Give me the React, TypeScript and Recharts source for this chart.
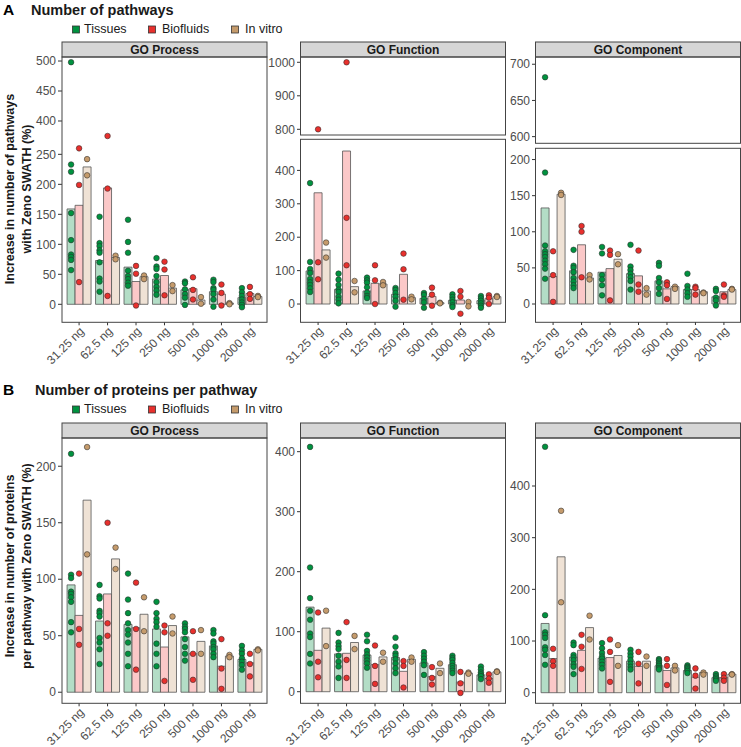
import React from 'react';
import { ComposedChart, Bar, Scatter, XAxis, YAxis } from 'recharts';

const CATEGORIES = ['31.25 ng', '62.5 ng', '125 ng', '250 ng', '500 ng', '1000 ng', '2000 ng'];
const SERIES = ['Tissues', 'Biofluids', 'In vitro'];

// ---------- A: Number of pathways ----------
// GO Process
const A_PROC_BAR_T = [159, 73, 62, 42, 24, 21, 11];
const A_PROC_BAR_B = [165, 194, 38, 48, 26, 17, 18];
const A_PROC_BAR_V = [229, 78, 46, 27, 7, 2, 13];
const A_PROC_PTS_T = [
  [498, 233, 221, 152, 107, 83, 79, 74, 57],
  [146, 102, 97, 90, 86, 70, 43, 38, 21],
  [141, 104, 86, 56, 47, 42, 36, 31],
  [77, 63, 59, 47, 37, 29, 23, 16],
  [38, 35, 25, 17, 11, -1],
  [41, 37, 27, 24, 17, 8, -4],
  [27, 20, 14, 8, 3, -1, -5],
];
const A_PROC_PTS_B = [[260, 199, 37], [375, 193, 14], [64, 51, -2], [71, 58, 15], [45, 24, 8], [33, 19, -2], [29, 17, 9]];
const A_PROC_PTS_V = [[242, 215], [81, 75], [48, 42], [32, 22], [12, 1], [2, 0], [14, 12]];

// GO Function
const A_FUNC_BAR_T = [99, 44, 39, 29, 17, 11, 10];
const A_FUNC_BAR_B = [333, 458, 62, 89, 23, 12, 16];
const A_FUNC_BAR_V = [162, 52, 60, 19, 4, 0, 22];
const A_FUNC_PTS_T = [
  [362, 126, 105, 93, 75, 65, 57, 47, 36],
  [91, 73, 57, 43, 36, 22, 13, 2],
  [79, 71, 64, 50, 34, 24, 18],
  [48, 42, 33, 22, 10, -8],
  [33, 27, 15, 5, -11],
  [29, 21, 13, 5, -4, -9],
  [24, 17, 10, 2, -5, -11],
];
const A_FUNC_PTS_B = [[800, 125, 74], [1000, 258, 116], [116, 71, 0], [151, 104, 13], [49, 28, -5], [39, 22, -29], [26, 19, 0]];
const A_FUNC_PTS_V = [[184, 139], [69, 35], [66, 56], [22, 14], [4, 2], [6, -7], [24, 21]];

// GO Component
const A_COMP_BAR_T = [133, 46, 44, 42, 32, 20, 10];
const A_COMP_BAR_B = [38, 82, 49, 39, 21, 20, 17];
const A_COMP_BAR_V = [152, 36, 62, 18, 24, 17, 20];
const A_COMP_PTS_T = [
  [682, 182, 81, 73, 69, 65, 60, 55, 49, 35],
  [75, 53, 50, 44, 36, 31, 26, 22],
  [79, 70, 40, 34, 26, 12],
  [82, 52, 47, 42, 37, 32, 20],
  [57, 53, 36, 30, 22, 14],
  [42, 25, 20, 15, 10],
  [21, 18, 9, 5, -2],
];
const A_COMP_PTS_B = [[73, 40, 3], [108, 100, 37], [74, 68, 5], [74, 27, 17], [30, 26, 7], [24, 22, 13], [27, 12, 10]];
const A_COMP_PTS_V = [[154, 151], [40, 34], [69, 55], [22, 13], [24, 21], [16, 15], [21, 20]];

// ---------- B: Number of proteins per pathway ----------
const B_PROC_BAR_T = [95, 63, 60, 56, 49, 41, 29];
const B_PROC_BAR_B = [68, 87, 57, 40, 34, 23, 26];
const B_PROC_BAR_V = [170, 118, 69, 59, 45, 32, 38];
const B_PROC_PTS_T = [
  [211, 104, 101, 89, 87, 84, 80, 62, 53],
  [95, 85, 83, 72, 70, 67, 48, 44, 38, 25],
  [105, 82, 70, 61, 55, 51, 44, 34, 23],
  [80, 70, 65, 62, 58, 43, 34, 23],
  [61, 58, 56, 53, 47, 40, 34, 28],
  [55, 52, 45, 43, 40, 38, 34, 31],
  [41, 37, 34, 30, 27, 24, 20],
];
const B_PROC_PTS_B = [[105, 56, 42], [150, 61, 50], [97, 56, 20], [59, 53, 10], [54, 34, 11], [47, 21, 3], [34, 25, 14]];
const B_PROC_PTS_V = [[217, 122], [128, 109], [84, 54], [67, 52], [55, 34], [33, 31], [38, 37]];

const B_FUNC_BAR_T = [141, 63, 61, 57, 48, 45, 28];
const B_FUNC_BAR_B = [69, 64, 45, 34, 25, 16, 22];
const B_FUNC_BAR_V = [106, 82, 58, 54, 39, 31, 33];
const B_FUNC_PTS_T = [
  [408, 207, 156, 135, 120, 97, 91, 63, 47],
  [98, 82, 76, 71, 60, 50, 42, 23],
  [95, 84, 68, 62, 57, 52, 47, 40],
  [90, 75, 64, 60, 54, 47, 39, 31],
  [66, 60, 55, 50, 44, 28],
  [60, 56, 53, 48, 43, 39, 35, 31],
  [42, 37, 32, 29, 26, 21],
];
const B_FUNC_PTS_B = [[132, 50, 24], [116, 53, 23], [77, 43, 13], [51, 43, 7], [41, 23, 12], [33, 14, -2], [29, 22, 15]];
const B_FUNC_PTS_V = [[135, 76], [93, 71], [65, 50], [57, 50], [47, 31], [32, 30], [34, 33]];

const B_COMP_BAR_T = [134, 69, 67, 61, 52, 43, 29];
const B_COMP_BAR_B = [66, 82, 68, 51, 43, 30, 29];
const B_COMP_BAR_V = [263, 126, 72, 61, 48, 39, 36];
const B_COMP_PTS_T = [
  [476, 150, 117, 112, 106, 88, 83, 73, 54],
  [97, 92, 73, 68, 63, 55, 50, 36],
  [96, 86, 77, 70, 66, 60, 54, 47],
  [83, 76, 70, 63, 56, 50, 45],
  [65, 62, 58, 55, 52, 48, 45],
  [53, 50, 48, 45, 42, 38],
  [36, 32, 29, 26, 23],
];
const B_COMP_PTS_B = [[85, 61, 52], [112, 89, 46], [103, 79, 21], [79, 56, 18], [65, 52, 15], [47, 33, 8], [36, 29, 23]];
const B_COMP_PTS_V = [[352, 175], [149, 103], [92, 52], [70, 52], [52, 43], [39, 35], [36, 35]];

// ---------- styling ----------
const FONT = '"Liberation Sans", Arial, Helvetica, sans-serif';
const DOT = ['#00923f', '#e8302d', '#c59b6c'];
const FILL = ['#b3ddc6', '#fbc8c8', '#efe2d5'];
const KEYS = ['t', 'b', 'v'];
const YW = 40;
const XH = 62;
const PAD = 8;
const PW = 205;
const DODGE = 0.281;

const XTick = (props: any) => {
  const { x, y, payload } = props;
  return (
    <g transform={`translate(${x},${y})`}>
      <text x={0} y={0} dy={8} textAnchor="end" transform="rotate(-45)" fontSize={12} fill="#4d4d4d" fontFamily={FONT}>
        {payload.value}
      </text>
    </g>
  );
};

const makeDot = (color: string) => (p: any) => (
  <circle cx={p.cx} cy={p.cy} r={2.8} fill={color} stroke="#2a2a2a" strokeWidth={0.55} />
);

type SubProps = {
  left: number; top: number; height: number; domain: [number, number]; ticks: number[];
  bars: number[][]; pts: number[][][]; showBars: boolean; showX: boolean;
};

function Sub({ left, top, height, domain, ticks, bars, pts, showBars, showX }: SubProps) {
  const rows = CATEGORIES.map((c, i) => ({ cat: c, t: bars[0][i], b: bars[1][i], v: bars[2][i] }));
  const scatterData = pts.map((series, s) =>
    series.flatMap((arr, i) =>
      arr.filter((y) => y >= domain[0] && y <= domain[1]).map((y) => ({ x: i + (s - 1) * DODGE, y }))
    )
  );
  const bottomPad = showX ? 0 : PAD;
  return (
    <div style={{ position: 'absolute', left: left - YW, top: top - PAD }}>
      <ComposedChart
        width={PW + YW}
        height={height + PAD + bottomPad + (showX ? XH : 0)}
        data={rows}
        margin={{ top: PAD, right: 0, bottom: bottomPad, left: 0 }}
        barGap={0}
        barCategoryGap="7.8%"
      >
        <XAxis
          xAxisId="cat"
          dataKey="cat"
          type="category"
          padding={{ left: PW / 72, right: PW / 72 }}
          hide={!showX}
          height={XH}
          interval={0}
          tick={<XTick />}
          tickSize={3}
          tickMargin={1}
          axisLine={false}
          tickLine={{ stroke: '#333' }}
        />
        <XAxis xAxisId="num" dataKey="x" type="number" domain={[-0.6, 6.6]} allowDataOverflow hide />
        <YAxis
          yAxisId="y"
          type="number"
          domain={domain}
          ticks={ticks}
          allowDataOverflow
          width={YW}
          interval={0}
          tickSize={4}
          tickMargin={2}
          axisLine={false}
          tickLine={{ stroke: '#333' }}
          tick={{ fontSize: 12, fill: '#4d4d4d', fontFamily: FONT }}
        />
        {showBars &&
          KEYS.map((k, s) => (
            <Bar
              key={k}
              xAxisId="cat"
              yAxisId="y"
              dataKey={k}
              fill={FILL[s]}
              stroke="#555"
              strokeWidth={0.8}
              isAnimationActive={false}
            />
          ))}
        {scatterData.map((d, s) => (
          <Scatter
            key={'s' + s}
            xAxisId="num"
            yAxisId="y"
            data={d}
            dataKey="y"
            shape={makeDot(DOT[s])}
            isAnimationActive={false}
          />
        ))}
      </ComposedChart>
    </div>
  );
}

const LEFT_PROC = 62;
const LEFT_FUNC = 300.5;
const LEFT_COMP = 535.5;

const A_PROC = { bars: [A_PROC_BAR_T, A_PROC_BAR_B, A_PROC_BAR_V], pts: [A_PROC_PTS_T, A_PROC_PTS_B, A_PROC_PTS_V] };
const A_FUNC = { bars: [A_FUNC_BAR_T, A_FUNC_BAR_B, A_FUNC_BAR_V], pts: [A_FUNC_PTS_T, A_FUNC_PTS_B, A_FUNC_PTS_V] };
const A_COMP = { bars: [A_COMP_BAR_T, A_COMP_BAR_B, A_COMP_BAR_V], pts: [A_COMP_PTS_T, A_COMP_PTS_B, A_COMP_PTS_V] };
const B_PROC = { bars: [B_PROC_BAR_T, B_PROC_BAR_B, B_PROC_BAR_V], pts: [B_PROC_PTS_T, B_PROC_PTS_B, B_PROC_PTS_V] };
const B_FUNC = { bars: [B_FUNC_BAR_T, B_FUNC_BAR_B, B_FUNC_BAR_V], pts: [B_FUNC_PTS_T, B_FUNC_PTS_B, B_FUNC_PTS_V] };
const B_COMP = { bars: [B_COMP_BAR_T, B_COMP_BAR_B, B_COMP_BAR_V], pts: [B_COMP_PTS_T, B_COMP_PTS_B, B_COMP_PTS_V] };

function Legend({ y }: { y: number }) {
  const sq = [72, 148, 231];
  const tx = [84, 162, 245];
  return (
    <g>
      {SERIES.map((s, i) => (
        <g key={s}>
          <rect x={sq[i] + 0.5} y={y - 7} width={7} height={7} fill={DOT[i]} stroke="#333" strokeWidth={0.8} />
          <text x={tx[i]} y={y} fontSize={12.5} fill="#1a1a1a">{s}</text>
        </g>
      ))}
    </g>
  );
}

function Strip({ left, top, label }: { left: number; top: number; label: string }) {
  return (
    <g>
      <rect x={left} y={top} width={PW} height={15} fill="#d6d6d6" stroke="#444" strokeWidth={1} />
      <text x={left + PW / 2} y={top + 12} textAnchor="middle" fontSize={12} fontWeight="bold" fill="#1a1a1a">{label}</text>
    </g>
  );
}

const Box = ({ left, top, bottom }: { left: number; top: number; bottom: number }) => (
  <rect x={left} y={top} width={PW} height={bottom - top} fill="none" stroke="#444" strokeWidth={1} />
);

export default function App() {
  return (
    <div style={{ position: 'absolute', left: 0, top: 0, width: 741, height: 747, background: '#fff', fontFamily: FONT, overflow: 'hidden' }}>
      {/* Panel A */}
      <Sub left={LEFT_PROC} top={140} height={182.3} domain={[-30, 273.9]} ticks={[0, 50, 100, 150, 200, 250]} {...A_PROC} showBars showX />
      <Sub left={LEFT_PROC} top={57} height={83} domain={[368.3, 506.7]} ticks={[400, 450, 500]} {...A_PROC} showBars={false} showX={false} />
      <Sub left={LEFT_FUNC} top={139.3} height={183} domain={[-53.8, 494]} ticks={[0, 100, 200, 300, 400]} {...A_FUNC} showBars showX />
      <Sub left={LEFT_FUNC} top={57} height={78} domain={[783, 1015.8]} ticks={[800, 900, 1000]} {...A_FUNC} showBars={false} showX={false} />
      <Sub left={LEFT_COMP} top={148.3} height={174} domain={[-24.9, 216]} ticks={[0, 50, 100, 150, 200]} {...A_COMP} showBars showX />
      <Sub left={LEFT_COMP} top={57} height={86.3} domain={[590.8, 710]} ticks={[600, 650, 700]} {...A_COMP} showBars={false} showX={false} />

      {/* Panel B */}
      <Sub left={LEFT_PROC} top={438} height={265.3} domain={[-9.8, 225]} ticks={[0, 50, 100, 150, 200]} {...B_PROC} showBars showX />
      <Sub left={LEFT_FUNC} top={438} height={265.3} domain={[-19.3, 422.8]} ticks={[0, 100, 200, 300, 400]} {...B_FUNC} showBars showX />
      <Sub left={LEFT_COMP} top={438} height={265.3} domain={[-20.5, 492.9]} ticks={[0, 100, 200, 300, 400]} {...B_COMP} showBars showX />

      <svg width={741} height={747} style={{ position: 'absolute', left: 0, top: 0, pointerEvents: 'none' }} fontFamily={FONT}>
        <text x={3} y={15} fontSize={15.5} fontWeight="bold" fill="#000">A</text>
        <text x={31} y={15} fontSize={14.5} fontWeight="bold" fill="#1a1a1a">Number of pathways</text>
        <Legend y={33} />
        <Strip left={LEFT_PROC} top={42} label="GO Process" />
        <Strip left={LEFT_FUNC} top={42} label="GO Function" />
        <Strip left={LEFT_COMP} top={42} label="GO Component" />
        <Box left={LEFT_PROC} top={57} bottom={322.3} />
        <Box left={LEFT_FUNC} top={57} bottom={135} />
        <Box left={LEFT_FUNC} top={139.3} bottom={322.3} />
        <Box left={LEFT_COMP} top={57} bottom={143.3} />
        <Box left={LEFT_COMP} top={148.3} bottom={322.3} />
        <text transform="translate(14,189) rotate(-90)" textAnchor="middle" fontSize={12.5} fontWeight="bold" fill="#1a1a1a">Increase in number of pathways</text>
        <text transform="translate(31,189) rotate(-90)" textAnchor="middle" fontSize={12.5} fontWeight="bold" fill="#1a1a1a">with Zeno SWATH (%)</text>

        <text x={3} y={395} fontSize={15.5} fontWeight="bold" fill="#000">B</text>
        <text x={35} y={395} fontSize={14.5} fontWeight="bold" fill="#1a1a1a">Number of proteins per pathway</text>
        <Legend y={413} />
        <Strip left={LEFT_PROC} top={423} label="GO Process" />
        <Strip left={LEFT_FUNC} top={423} label="GO Function" />
        <Strip left={LEFT_COMP} top={423} label="GO Component" />
        <Box left={LEFT_PROC} top={438} bottom={703.3} />
        <Box left={LEFT_FUNC} top={438} bottom={703.3} />
        <Box left={LEFT_COMP} top={438} bottom={703.3} />
        <text transform="translate(14,566) rotate(-90)" textAnchor="middle" fontSize={12.5} fontWeight="bold" fill="#1a1a1a">Increase in number of proteins</text>
        <text transform="translate(31,566) rotate(-90)" textAnchor="middle" fontSize={12.5} fontWeight="bold" fill="#1a1a1a">per pathway with Zeno SWATH (%)</text>
      </svg>
    </div>
  );
}
